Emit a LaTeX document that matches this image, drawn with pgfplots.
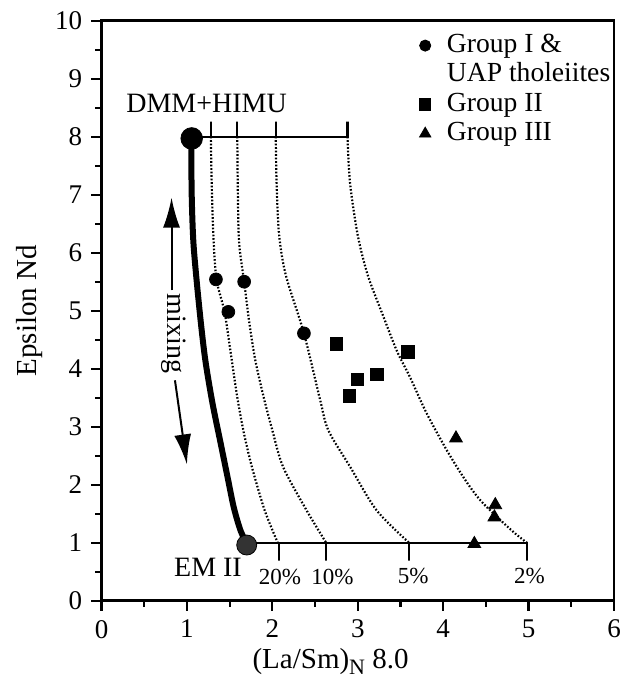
\documentclass[border=0pt]{standalone}
\usepackage{fontspec}
\setmainfont{Liberation Serif}
\usepackage{pgfplots}
\pgfplotsset{compat=1.18}
\usetikzlibrary{arrows.meta}

\begin{document}
\fontsize{13.5}{16}\selectfont
\begin{tikzpicture}
\begin{axis}[
  scale only axis, width=256.25pt, height=290pt,
  xmin=0, xmax=6, ymin=0, ymax=10,
  xtick={0,1,2,3,4,5,6}, ytick={0,1,2,3,4,5,6,7,8,9,10},
  minor xtick={0.5,1.5,2.5,3.5,4.5,5.5},
  minor ytick={0.5,1.5,2.5,3.5,4.5,5.5,6.5,7.5,8.5,9.5},
  xtick pos=bottom, ytick pos=left,
  tick align=outside,
  major tick length=5pt, minor tick length=3pt,
  every tick/.style={black, line width=1.1pt},
  axis line style={line width=1.3pt},
  /pgf/number format/assume math mode=true,
  tick label style={font=\fontsize{13.5}{16}\selectfont},
  label style={font=\fontsize{14.5}{17}\selectfont},
  xlabel={(La/Sm)\raisebox{-0.4ex}{\fontsize{11}{13}\selectfont N} 8.0},
  xlabel style={at={(axis description cs:0.447,-0.082)}, anchor=north, inner sep=0pt},
  ylabel={Epsilon Nd},
  ylabel style={at={(axis description cs:-0.1395,0.5)}, anchor=center, inner sep=0pt},
  clip=false,
  legend cell align=left,
  legend style={at={(axis cs:3.515,9.9)}, anchor=north west, draw=none, fill=none,
    font=\fontsize{13.8}{16}\selectfont, row sep=0pt, column sep=7pt,
    nodes={inner sep=1pt, text height=9.7pt, text depth=3pt}},
]
% thick mixing curve
\addplot[black, line width=3pt, smooth, forget plot] coordinates {
 (1.05,8.0) (1.056,7.0) (1.075,6.2) (1.115,5.5) (1.17,4.7) (1.22,4.1) (1.30,3.4) (1.39,2.75) (1.48,2.1) (1.55,1.6) (1.63,1.2) (1.70,1.0)};
% dotted melting curves
\addplot[black, line width=1.1pt, dash pattern=on 0.8pt off 0.95pt, smooth, forget plot] coordinates {
 (1.28,8.0) (1.29,7.2) (1.31,6.3) (1.345,5.55) (1.44,4.98) (1.51,4.3) (1.585,3.55) (1.66,2.94) (1.76,2.31) (1.91,1.56) (2.063,1.0)};
\addplot[black, line width=1.1pt, dash pattern=on 0.8pt off 0.95pt, smooth, forget plot] coordinates {
 (1.59,8.0) (1.595,7.2) (1.61,6.2) (1.67,5.5) (1.73,4.8) (1.80,4.15) (1.90,3.5) (2.00,2.94) (2.125,2.31) (2.40,1.56) (2.63,1.0)};
\addplot[black, line width=1.1pt, dash pattern=on 0.8pt off 0.95pt, smooth, forget plot] coordinates {
 (2.04,8.0) (2.05,7.2) (2.08,6.3) (2.16,5.6) (2.37,4.61) (2.56,3.46) (2.655,2.94) (2.91,2.31) (3.22,1.56) (3.60,1.0)};
\addplot[black, line width=1.1pt, dash pattern=on 0.8pt off 0.95pt, smooth, forget plot] coordinates {
 (2.88,8.0) (2.91,7.2) (3.0,6.3) (3.12,5.6) (3.30,4.9) (3.46,4.3) (3.61,3.86) (3.80,3.25) (4.04,2.6) (4.25,2.1) (4.43,1.74) (4.67,1.39) (4.85,1.15) (4.98,1.0)};
% tick bars at top and bottom
\addplot[black, line width=1.1pt, forget plot] coordinates {
 (1.05,8) (1.28,8) (1.28,8.26) (1.28,8) (1.59,8) (1.59,8.26) (1.59,8) (2.04,8) (2.04,8.26) (2.04,8) (2.88,8) (2.88,8.26) (2.88,8)};
\addplot[black, line width=1.1pt, forget plot] coordinates {
 (1.70,1) (2.075,1) (2.075,0.69) (2.075,1) (2.63,1) (2.63,0.69) (2.63,1) (3.60,1) (3.60,0.69) (3.60,1) (4.98,1) (4.98,0.69) (4.98,1)};
% end members
\addplot[only marks, mark=*, mark size=5.4pt, black, forget plot] coordinates {(1.056,7.97)};
\addplot[only marks, mark=*, mark size=5pt, draw=black, fill=black!80, forget plot] coordinates {(1.70,0.96)};
% data
\addplot[only marks, mark=*, mark size=3.2pt, black, forget plot] coordinates {
 (1.34,5.54) (1.67,5.50) (1.485,4.98) (2.37,4.61)};
\addplot[only marks, mark=square*, mark size=3.1pt, black, forget plot] coordinates {
 (2.75,4.43) (3.585,4.29) (2.995,3.82) (3.226,3.90) (2.90,3.53)};
\addplot[only marks, mark=triangle*, mark size=3.7pt, black, forget plot] coordinates {
 (4.15,2.80) (4.61,1.65) (4.60,1.44) (4.365,0.98)};
% mixing arrows
\addplot[black, line width=1pt, -{Latex[length=15pt,width=8.5pt]}, forget plot] coordinates {(0.82,5.35) (0.82,6.95)};
\addplot[black, line width=1pt, -{Latex[length=15pt,width=8.5pt]}, forget plot] coordinates {(0.86,3.8) (1.0,2.35)};
\node[rotate=-90] at (axis cs:0.84,4.61) {\fontsize{14}{16}\selectfont mixing};
% labels
\node at (axis cs:1.23,8.58) {\fontsize{14}{16}\selectfont DMM+HIMU};
\node at (axis cs:1.247,0.58) {\fontsize{14}{16}\selectfont EM II};
\node at (axis cs:2.09,0.40) {\fontsize{11.5}{14}\selectfont 20\%};
\node at (axis cs:2.705,0.40) {\fontsize{11.5}{14}\selectfont 10\%};
\node at (axis cs:3.65,0.43) {\fontsize{11.5}{14}\selectfont 5\%};
\node at (axis cs:5.01,0.43) {\fontsize{11.5}{14}\selectfont 2\%};
% legend
\addlegendimage{only marks, mark=*, mark size=2.8pt, black}
\addlegendentry{Group I \&}
\addlegendimage{empty legend}
\addlegendentry{UAP tholeiites}
\addlegendimage{only marks, mark=square*, mark size=2.8pt, black}
\addlegendentry{Group II}
\addlegendimage{only marks, mark=triangle*, mark size=3.3pt, black}
\addlegendentry{Group III}
\end{axis}
\pgfresetboundingbox
\useasboundingbox (-50.75pt,-39.15pt) rectangle (261.25pt,300.35pt);
\end{tikzpicture}
\end{document}
